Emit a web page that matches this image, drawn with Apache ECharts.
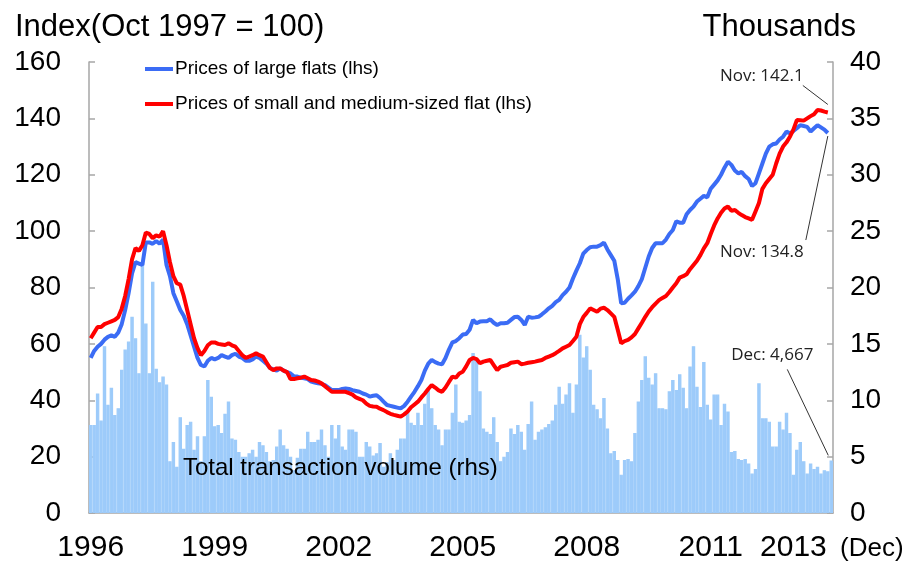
<!DOCTYPE html>
<html>
<head>
<meta charset="utf-8">
<script src="https://cdn.jsdelivr.net/npm/echarts@6/dist/echarts.min.js"></script>
<style>
  html, body { margin: 0; padding: 0; background: #fff; }
  #chart { width: 911px; height: 570px; }
</style>
</head>
<body>
<div id="chart"></div>
<script>
// Monthly, Jan 1996 - Dec 2013
var startYear = 1996, endYear = 2013;
var months = [];
for (var y = startYear; y <= endYear; y++) {
  for (var m = 1; m <= 12; m++) months.push(y + '-' + (m < 10 ? '0' + m : m));
}

// months that get a year label, and the text shown there
var labelMonths = ['1996-01', '1999-01', '2002-01', '2005-01', '2008-01', '2011-01', '2013-01'];
var labelTexts  = ['1996', '1999', '2002', '2005', '2008', '2011', '2013'];

// Prices of large flats (index, Oct 1997 = 100), last value Nov 2013
var largeFlats = [
  55, 57.5, 59, 60, 61.5, 62.5, 63, 62.5, 64, 67, 72, 78,
  85, 89, 88.5, 88, 96, 96, 95.5, 96.5, 95.5, 97, 88, 84,
  78, 75, 72, 70, 67, 63, 59, 55, 52.5, 52, 54, 55,
  54.5, 55, 56, 55.5, 55, 56, 56.5, 55.5, 55, 54, 54, 54.5,
  55.5, 55, 54, 53, 51.5, 51, 50.5, 51.3, 50.5, 50, 49.5, 48.5,
  48.4, 48, 47.8, 47.5, 46.6, 46.3, 46, 45.8, 45.4, 44.5, 43.6, 43.6,
  43.6, 44, 44.2, 44, 43.6, 43.3, 43, 42.4, 42, 41.3, 41.6, 41.8,
  40.8, 39.5, 38.3, 38, 37.7, 37.4, 37.1, 38, 39.5, 41.3, 43, 45,
  47.2, 50.5, 53, 54.3, 53.5, 53, 52.8, 55, 58, 60.5, 61, 62,
  63.3, 63.5, 65, 68.5, 67.3, 67.9, 68, 68, 68.7, 67.5, 66.7, 67.3,
  67.3, 67.5, 68.5, 69.5, 69.6, 68.5, 66.7, 69.6, 69.3, 69.4, 69.6, 70.5,
  71.5, 72.6, 73.5, 74.8, 75.6, 77.3, 78.5, 80, 83.2, 86, 88.6, 92,
  93.3, 94.3, 94.5, 94.5, 95, 95.9, 93.5, 91.5, 89.5, 83, 74.4, 74.6,
  76, 77.2, 78.5, 80.5, 83, 87, 91, 94, 95.7, 95.7, 95.7, 97,
  99, 100.4, 103.5, 103, 103, 106, 107.5, 108.7, 110.5, 111.5, 112.5, 112,
  115, 116.5, 118, 120, 122.5, 124.6, 123.5, 121.5, 120.5, 121, 119.5, 118.5,
  116, 117, 120.5, 124, 127.5, 130, 130.8, 131.1, 132.5, 133.5, 135.3, 134.7,
  135.5, 136.5, 137.6, 137.3, 137, 135.3, 136.5, 137.6, 136.8, 136, 134.8, null
];

// Prices of small and medium-sized flats (index, Oct 1997 = 100), last value Nov 2013
var smallFlats = [
  62, 64, 66, 66, 67, 67.5, 68, 68.5, 69.5, 72.5, 77, 83,
  90, 94, 93, 95, 99.5, 99, 97.5, 98.5, 98, 100, 95, 89,
  84, 81.5, 81, 77, 72, 67, 62, 58.5, 56, 57.5, 59.5, 60.5,
  60.5, 60, 59.8, 59.6, 60.2, 59.5, 59, 57.5, 56, 55, 55.5, 56,
  56.7, 56, 55.5, 53.5, 51.5, 50.7, 51.3, 51.3, 50.5, 50, 47.5, 47.5,
  47.8, 48, 48.4, 47.8, 47.2, 47, 46.6, 46, 45, 44, 43, 43,
  43, 43, 43, 42.5, 42, 41, 40.5, 40, 38.8, 38, 37.8, 37.7,
  37, 36.5, 35.8, 35.2, 34.8, 34.5, 34.2, 35, 36, 37.5, 38.5, 39.5,
  41, 42.4, 44, 45.4, 44.5, 43.5, 43, 44.5, 46.5, 48.4, 48, 49.5,
  50.1, 52, 54.3, 55, 54.6, 53.1, 53.7, 54, 54.3, 52.5, 50.7, 51.9,
  52.2, 52.5, 53.3, 53.5, 53.7, 52.8, 53, 53.3, 53.5, 53.7, 54, 54.3,
  55, 55.5, 56, 56.7, 57.5, 58.4, 59, 59.6, 61, 62.5, 67, 69.5,
  71, 72.6, 72, 71.4, 72.5, 72.8, 72, 70.8, 69.6, 65, 60.2, 61,
  61.4, 62.3, 63.5, 65.5, 67.5, 69.6, 71.5, 73, 74.3, 75.5, 76.3, 77,
  78.4, 80, 81.5, 83.5, 84, 84.7, 86.5, 88, 89.5, 91.5, 93.9, 95.7,
  99, 102, 104.5, 106.5, 108, 108.7, 107.2, 107.5, 106.5, 105.7, 105, 104.5,
  104, 107, 110, 115, 117, 118.5, 120, 124, 127.5, 130, 131.5, 133.5,
  136, 139.4, 139.3, 139.2, 140, 140.8, 141.5, 143, 142.8, 142.4, 142.1, null
];

// Total transaction volume (thousands)
var volume = [
  7.8, 7.8, 10.6, 8.2, 14.8, 9.6, 11.1, 8.7, 9.3, 12.7, 14.5, 15.2,
  17.4, 15.5, 12.4, 22.2, 16.8, 12.4, 20.5, 12.8, 11.6, 12.1, 11.4, 4.6,
  6.3, 4.1, 8.5, 5.7, 7.8, 8.1, 5.6, 6.8, 4.6, 6.8, 11.8, 10.3,
  7.7, 7.8, 7.1, 8.8, 9.9, 6.6, 6.5, 5.4, 5.0, 5.0, 5.3, 5.6,
  5.0, 6.3, 6.0, 5.4, 4.6, 4.7, 5.9, 7.4, 6.0, 5.7, 5.0, 3.8,
  4.9, 5.7, 5.7, 7.2, 6.3, 6.3, 6.5, 7.4, 6.0, 5.0, 7.8, 6.6,
  7.8, 5.9, 5.6, 7.4, 7.4, 7.2, 5.0, 5.0, 6.3, 5.9, 5.1, 5.3,
  6.2, 4.1, 4.5, 5.3, 4.7, 5.6, 6.6, 6.6, 9.0, 8.0, 7.8, 8.9,
  7.8, 9.7, 10.9, 9.3, 7.8, 7.4, 6.0, 7.4, 7.4, 8.9, 11.4, 8.1,
  8.0, 8.2, 8.7, 14.2, 13.6, 10.8, 7.5, 7.2, 7.0, 8.5, 6.3, 4.6,
  5.0, 5.4, 7.5, 7.0, 7.8, 7.2, 5.6, 7.9, 9.9, 6.5, 7.2, 7.4,
  7.6, 7.9, 8.2, 9.6, 11.2, 9.7, 10.5, 11.5, 8.9, 11.4, 15.8, 13.8,
  14.8, 12.7, 9.6, 9.2, 8.4, 10.2, 7.5, 5.3, 5.5, 4.7, 3.4, 4.7,
  4.8, 4.6, 7.1, 9.9, 11.8, 13.9, 12.0, 11.4, 12.4, 9.3, 9.3, 9.2,
  10.8, 11.8, 10.9, 12.3, 11.1, 9.3, 13.0, 14.8, 11.2, 9.4, 13.4, 9.6,
  8.3, 10.5, 10.5, 7.8, 9.7, 9.0, 5.4, 5.5, 4.8, 4.7, 4.8, 4.4,
  3.5, 3.9, 11.5, 8.4, 8.4, 8.1, 5.9, 5.9, 8.1, 7.4, 8.9, 7.1,
  3.4, 5.6, 6.3, 4.6, 3.5, 4.4, 3.9, 4.1, 3.5, 3.8, 3.7, 4.667
];

var font = 'Arial, "Liberation Sans", sans-serif';
var annoFont = '"Open Sans", "Noto Sans", sans-serif';
var axisGrey = '#a6a6a6';
var blue = '#3b6cf5';
var red = '#ff0000';
var barBlue = '#9dcbfa';

var myChart = echarts.init(document.getElementById('chart'));

var option = {
  animation: false,
  textStyle: { fontFamily: font },
  title: [
    { text: 'Index(Oct 1997 = 100)', left: 10, top: 7,
      textStyle: { fontSize: 31, fontWeight: 'normal', color: '#000', fontFamily: font } },
    { text: 'Thousands', right: 50, top: 7,
      textStyle: { fontSize: 31, fontWeight: 'normal', color: '#000', fontFamily: font } }
  ],
  legend: {
    orient: 'vertical',
    left: 140,
    top: 54,
    itemGap: 15,
    itemWidth: 28,
    itemHeight: 4,
    data: [
      { name: 'Prices of large flats (lhs)', icon: 'rect' },
      { name: 'Prices of small and medium-sized flat (lhs)', icon: 'rect' }
    ],
    textStyle: { fontSize: 19, lineHeight: 20, color: '#000', fontFamily: font, padding: [0, 0, 0, -3] }
  },
  grid: { left: 89, right: 78, top: 62, bottom: 57 },
  xAxis: {
    type: 'category',
    data: months,
    boundaryGap: true,
    axisLine: { lineStyle: { color: axisGrey, width: 1.5 } },
    axisTick: {
      inside: true, length: 6,
      lineStyle: { color: axisGrey, width: 1.5 },
      interval: function (idx) { return idx % 12 === 0; }
    },
    axisLabel: {
      interval: function (idx, val) { return labelMonths.indexOf(val) >= 0; },
      formatter: function (val) { return labelTexts[labelMonths.indexOf(val)]; },
      margin: 20,
      fontSize: 30,
      color: '#000',
      fontFamily: font
    },
    splitLine: { show: false }
  },
  yAxis: [
    {
      type: 'value', min: 0, max: 160, interval: 20,
      axisLine: { show: true, lineStyle: { color: axisGrey, width: 1.5 } },
      axisTick: { show: true, inside: true, length: 6, lineStyle: { color: axisGrey, width: 1.5 } },
      axisLabel: { fontSize: 28, color: '#000', margin: 28, fontFamily: font },
      splitLine: { show: false }
    },
    {
      type: 'value', min: 0, max: 40, interval: 5,
      axisLine: { show: true, lineStyle: { color: axisGrey, width: 1.5 } },
      axisTick: { show: true, inside: true, length: 6, lineStyle: { color: axisGrey, width: 1.5 } },
      axisLabel: { fontSize: 28, color: '#000', margin: 17, fontFamily: font },
      splitLine: { show: false }
    }
  ],
  series: [
    {
      name: 'Total transaction volume (rhs)',
      type: 'bar',
      yAxisIndex: 1,
      data: volume,
      barCategoryGap: '0%',
      itemStyle: { color: barBlue, borderColor: barBlue, borderWidth: 1.2 },
      z: 1
    },
    {
      name: 'Prices of large flats (lhs)',
      type: 'line',
      data: largeFlats,
      symbol: 'none',
      lineStyle: { color: blue, width: 4 },
      itemStyle: { color: blue },
      z: 3
    },
    {
      name: 'Prices of small and medium-sized flat (lhs)',
      type: 'line',
      data: smallFlats,
      symbol: 'none',
      lineStyle: { color: red, width: 4 },
      itemStyle: { color: red },
      z: 4
    }
  ]
};

myChart.setOption(option);

// annotations anchored to the last data points
var lastLine = months.length - 2;   // Nov 2013
var lastBar = months.length - 1;    // Dec 2013
var pRed = myChart.convertToPixel({ xAxisIndex: 0, yAxisIndex: 0 }, [lastLine, smallFlats[lastLine]]);
var pBlue = myChart.convertToPixel({ xAxisIndex: 0, yAxisIndex: 0 }, [lastLine, largeFlats[lastLine]]);
var pBar = myChart.convertToPixel({ xAxisIndex: 0, yAxisIndex: 1 }, [lastBar, volume[lastBar]]);

function annoText(text, x, y) {
  return { type: 'text', x: x, y: y, z: 10,
    style: { text: text, fill: '#222', font: '17px ' + annoFont, align: 'center', verticalAlign: 'middle' } };
}
function annoLine(x1, y1, x2, y2) {
  return { type: 'line', z: 10, shape: { x1: x1, y1: y1, x2: x2, y2: y2 },
    style: { stroke: '#333', lineWidth: 1 } };
}

myChart.setOption({
  graphic: [
    annoText('Nov: ' + smallFlats[lastLine].toFixed(1), pRed[0] - 66, pRed[1] - 36),
    annoLine(pRed[0] - 25, pRed[1] - 27, pRed[0], pRed[1] - 8),
    annoText('Nov: ' + largeFlats[lastLine].toFixed(1), pBlue[0] - 66, pBlue[1] + 119),
    annoLine(pBlue[0] - 22, pBlue[1] + 107, pBlue[0], pBlue[1] + 3),
    annoText('Dec: 4,667', pBar[0] - 59, pBar[1] - 105),
    annoLine(pBar[0] - 44, pBar[1] - 91, pBar[0] - 3, pBar[1] - 5),
    { type: 'text', left: 183, top: 456, z: 10,
      style: { text: 'Total transaction volume (rhs)', fill: '#000', font: '24px ' + font } },
    { type: 'text', left: 840, top: 536, z: 10,
      style: { text: '(Dec)', fill: '#000', font: '26px ' + font } }
  ]
});
</script>
</body>
</html>
